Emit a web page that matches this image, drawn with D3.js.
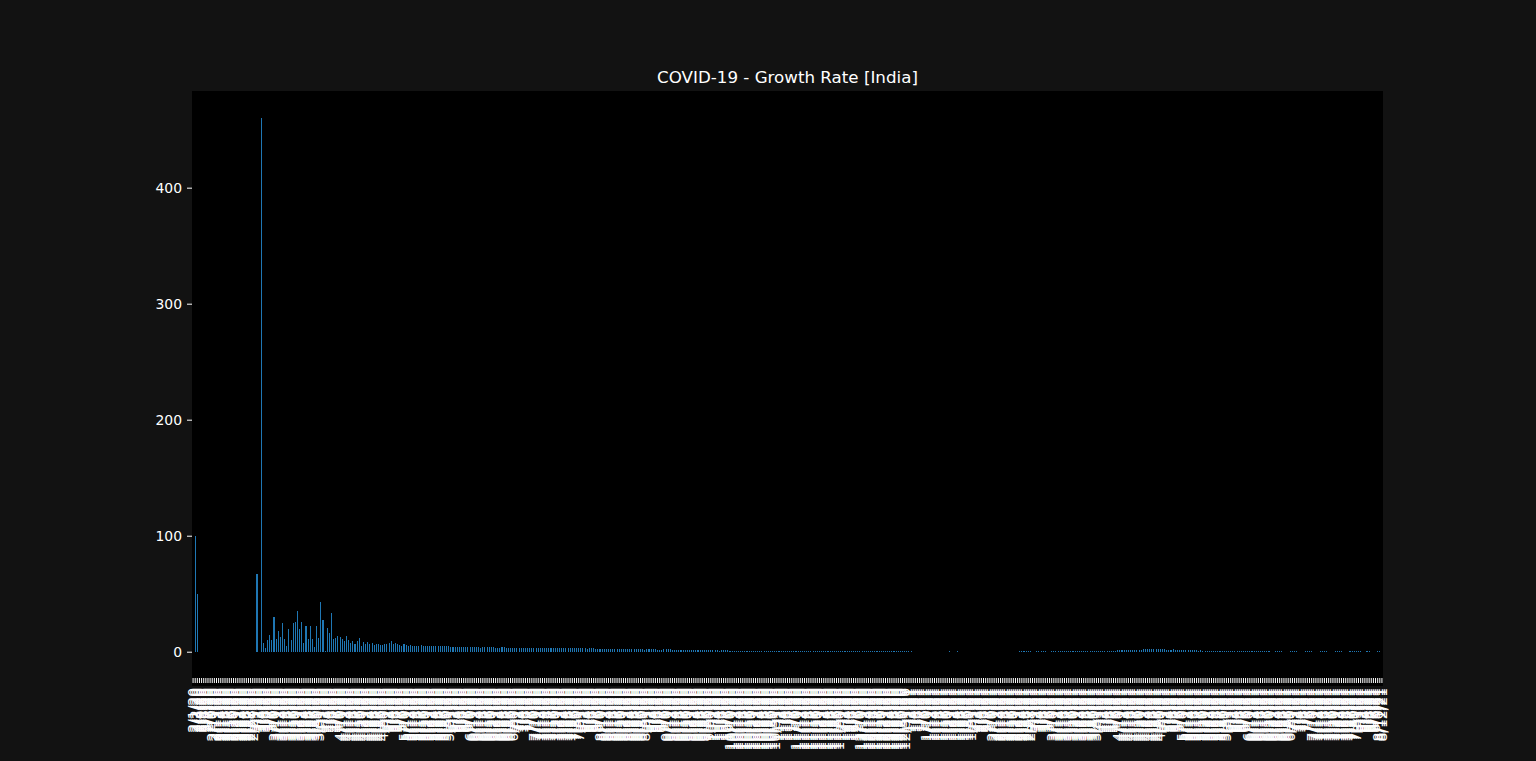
<!DOCTYPE html>
<html>
<head>
<meta charset="utf-8">
<script src="https://cdn.jsdelivr.net/npm/d3@7"></script>
<style>
  html, body { margin: 0; padding: 0; background: #121212; }
  svg { display: block; }
  text { font-family: "DejaVu Sans", sans-serif; fill: #ffffff; }
</style>
</head>
<body>
<svg id="chart" width="1536" height="761"></svg>
<script>
// ---------- DATA (daily growth rate %, India) ----------
const chartTitle = "COVID-19 - Growth Rate [India]";
const firstDate = "2020-02-01";
const yTicks = [0, 100, 200, 300, 400];

const feb2020 = [0, 100, 50, 0, 0, 0, 0, 0, 0, 0, 0, 0, 0, 0, 0, 0, 0, 0, 0, 0, 0, 0, 0, 0, 0, 0, 0, 0, 0];
const mar2020 = [0, 66.7, 0, 460, 7.1, 3.3, 9.7, 14.7, 10.3, 30.2, 10.7, 17.7, 12.3, 24.4, 10.8, 5.3, 19.3, 9.9, 24.4, 25.8, 35.2, 20, 26, 7.4, 22.6, 10.7, 22, 11.3, 3.7, 22.2, 11.7];
const apr2020 = [43, 27.3, 0.9, 20.1, 16.4, 33.2, 11.2, 11.4, 13.7, 13, 11.2, 9, 13.6, 9.9, 7.3, 9, 6.9, 9.5, 12, 5.2, 8.6, 7, 8.6, 7, 7.8, 6, 7, 7, 6, 6];
const may2020 = [7, 7, 7.8, 9.5, 7, 7.8, 7, 6, 5, 7, 6, 5, 5.4, 5.1, 5.2, 4.9, 5.3, 5.4, 5.2, 5.1, 5.0, 5.3, 5.2, 5.0, 4.8, 4.5, 4.6, 4.7, 4.8, 4.9, 4.6];
const jun2020 = [4.4, 4.2, 4.3, 4.4, 4.3, 4.1, 4.0, 3.9, 3.8, 4.0, 4.1, 4.0, 3.9, 3.8, 3.6, 3.7, 3.8, 4.0, 3.9, 3.8, 3.7, 3.5, 3.6, 3.6, 3.7, 3.7, 3.6, 3.5, 3.3, 3.4];
const jul2020 = [3.3, 3.4, 3.4, 3.3, 3.2, 3.0, 3.1, 3.2, 3.2, 3.2, 3.1, 3.0, 3.0, 3.1, 3.2, 3.3, 3.3, 3.2, 3.1, 3.1, 3.1, 3.2, 3.3, 3.3, 3.2, 3.1, 3.0, 3.2, 3.1, 3.3, 3.2];
const aug2020 = [3.1, 3.0, 2.8, 2.7, 2.8, 2.8, 2.8, 2.7, 2.6, 2.4, 2.5, 2.6, 2.7, 2.6, 2.6, 2.4, 2.2, 2.4, 2.5, 2.5, 2.4, 2.4, 2.2, 2.0, 2.1, 2.3, 2.3, 2.3, 2.2, 2.1, 1.9];
const sep2020 = [2.1, 2.1, 2.2, 2.1, 2.1, 1.9, 1.8, 1.9, 2.1, 2.1, 2.0, 2.0, 1.9, 1.7, 1.8, 1.9, 1.9, 1.8, 1.7, 1.6, 1.5, 1.5, 1.5, 1.5, 1.5, 1.5, 1.4, 1.3, 1.2, 1.3];
const oct2020 = [1.3, 1.3, 1.2, 1.2, 1.0, 1.1, 1.2, 1.1, 1.1, 1.0, 1.0, 0.8, 0.8, 0.9, 0.9, 0.9, 0.8, 0.8, 0.7, 0.7, 0.7, 0.7, 0.7, 0.7, 0.6, 0.6, 0.5, 0.5, 0.6, 0.6, 0.6];
const nov2020 = [0.6, 0.6, 0.5, 0.6, 0.6, 0.6, 0.6, 0.6, 0.5, 0.5, 0.6, 0.6, 0.5, 0.5, 0.4, 0.4, 0.4, 0.5, 0.5, 0.5, 0.5, 0.5, 0.5, 0.4, 0.5, 0.5, 0.5, 0.5, 0.5, 0.4];
const dec2020 = [0.4, 0.4, 0.4, 0.4, 0.4, 0.4, 0.3, 0.3, 0.3, 0.3, 0.3, 0.3, 0.3, 0.3, 0.25, 0.25, 0.25, 0.24, 0.24, 0.23, 0.23, 0.22, 0.22, 0.22, 0.21, 0.21, 0.21, 0.2, 0.2, 0.2, 0.2];
const jan2021 = [0.2, 0.2, 0.19, 0.15, 0.14, 0.16, 0.15, 0.14, 0.13, 0.12, 0.12, 0.15, 0.15, 0.14, 0.13, 0.11, 0.12, 0.12, 0.14, 0.16, 0.19, 0.18, 0.18, 0.18, 0.19, 0.18, 0.12, 0.18, 0.11, 0.12, 0.12];
const feb2021 = [0.08, 0.08, 0.12, 0.12, 0.18, 0.11, 0.11, 0.09, 0.1, 0.12, 0.12, 0.18, 0.11, 0.11, 0.08, 0.1, 0.11, 0.12, 0.13, 0.14, 0.18, 0.18, 0.19, 0.2, 0.2, 0.19, 0.2, 0.19];
const mar2021 = [0.18, 0.18, 0.19, 0.2, 0.2, 0.2, 0.19, 0.18, 0.18, 0.2, 0.2, 0.21, 0.21, 0.23, 0.24, 0.21, 0.25, 0.31, 0.34, 0.35, 0.4, 0.41, 0.41, 0.45, 0.5, 0.5, 0.51, 0.53, 0.55, 0.6, 0.45];
const apr2021 = [0.63, 0.66, 0.7, 0.76, 0.82, 0.78, 0.9, 1.0, 1.02, 1.1, 1.15, 1.2, 1.2, 1.4, 1.5, 1.6, 1.6, 1.7, 1.8, 1.7, 1.9, 2.1, 2.1, 2.2, 2.2, 2.1, 2.0, 2.2, 2.2, 2.2];
const may2021 = [2.1, 2.0, 1.9, 1.8, 1.9, 2.0, 1.9, 1.9, 1.7, 1.6, 1.5, 1.6, 1.5, 1.4, 1.3, 1.2, 1.1, 1.0, 1.1, 1.0, 0.9, 0.9, 0.9, 0.8, 0.7, 0.8, 0.8, 0.7, 0.6, 0.6, 0.5];
const jun2021 = [0.45, 0.47, 0.47, 0.45, 0.4, 0.42, 0.36, 0.31, 0.32, 0.32, 0.31, 0.28, 0.27, 0.25, 0.21, 0.22, 0.22, 0.21, 0.2, 0.19, 0.18, 0.14, 0.19, 0.2, 0.2, 0.19, 0.18, 0.13, 0.18, 0.2];
const jul2021 = [0.2, 0.19, 0.19, 0.18, 0.12, 0.18, 0.21, 0.2, 0.19, 0.19, 0.18, 0.12, 0.18, 0.21, 0.2, 0.19, 0.19, 0.18, 0.12, 0.13, 0.21, 0.2, 0.19, 0.19, 0.18, 0.12, 0.18, 0.2, 0.2, 0.19, 0.19];
const aug2021 = [0.19, 0.2, 0.12, 0.18, 0.2, 0.19, 0.18, 0.12, 0.18, 0.19, 0.2, 0.18];

// ---------- BUILD ----------
const growth = [].concat(feb2020, mar2020, apr2020, may2020, jun2020, jul2020, aug2020, sep2020,
  oct2020, nov2020, dec2020, jan2021, feb2021, mar2021, apr2021, may2021, jun2021, jul2021, aug2021);
const startDay = d3.timeParse("%Y-%m-%d")(firstDate);
const fmt = d3.timeFormat("%-m/%-d/%y");
const dates = growth.map((_, i) => fmt(d3.timeDay.offset(startDay, i)));
const data = dates.map((d, i) => ({ date: d, value: growth[i] }));

const svg = d3.select("#chart");
const plotL = 192, plotR = 1383, plotT = 91.4, plotB = 678.4;

svg.append("rect").attr("x", 0).attr("y", 0).attr("width", 1536).attr("height", 761).attr("fill", "#121212");
svg.append("rect").attr("x", plotL).attr("y", 91).attr("width", plotR - plotL).attr("height", 686 - 91).attr("fill", "#000000");

const x = d3.scaleBand().domain(dates).range([plotL, plotR]).paddingInner(0.5).paddingOuter(0.25);
const y = d3.scaleLinear().domain([-23, 483]).range([plotB, plotT]);

svg.append("g").attr("shape-rendering", "crispEdges")
  .selectAll("rect").data(data).join("rect")
  .attr("x", d => x(d.date))
  .attr("width", x.bandwidth())
  .attr("y", d => y(Math.max(0, d.value)))
  .attr("height", d => Math.abs(y(0) - y(d.value)))
  .attr("fill", "#1f77b4");

// x axis
const xAxis = d3.axisBottom(x).tickSize(5).tickPadding(5);
const gx = svg.append("g").attr("transform", "translate(0,678)").call(xAxis);
gx.select(".domain").remove();
gx.selectAll(".tick line").attr("stroke", "#ffffff").attr("stroke-width", 1);
gx.selectAll(".tick text")
  .attr("fill", "#ffffff")
  .style("font-family", "DejaVu Sans")
  .style("font-size", "13.9px")
  .attr("text-anchor", "end")
  .attr("transform", "rotate(-90)")
  .attr("x", -10)
  .attr("y", 0)
  .attr("dy", "0.35em");

// y axis
const yAxis = d3.axisLeft(y).tickValues(yTicks).tickSize(5).tickPadding(5);
const gy = svg.append("g").attr("transform", `translate(${plotL},0)`).call(yAxis);
gy.select(".domain").remove();
gy.selectAll(".tick line").attr("stroke", "#ffffff").attr("stroke-width", 1);
gy.selectAll(".tick text").attr("fill", "#ffffff").style("font-family", "DejaVu Sans").style("font-size", "13.9px");

// title
svg.append("text")
  .attr("x", (plotL + plotR) / 2)
  .attr("y", 83)
  .attr("text-anchor", "middle")
  .style("font-size", "16.7px")
  .text(chartTitle);
</script>
</body>
</html>
